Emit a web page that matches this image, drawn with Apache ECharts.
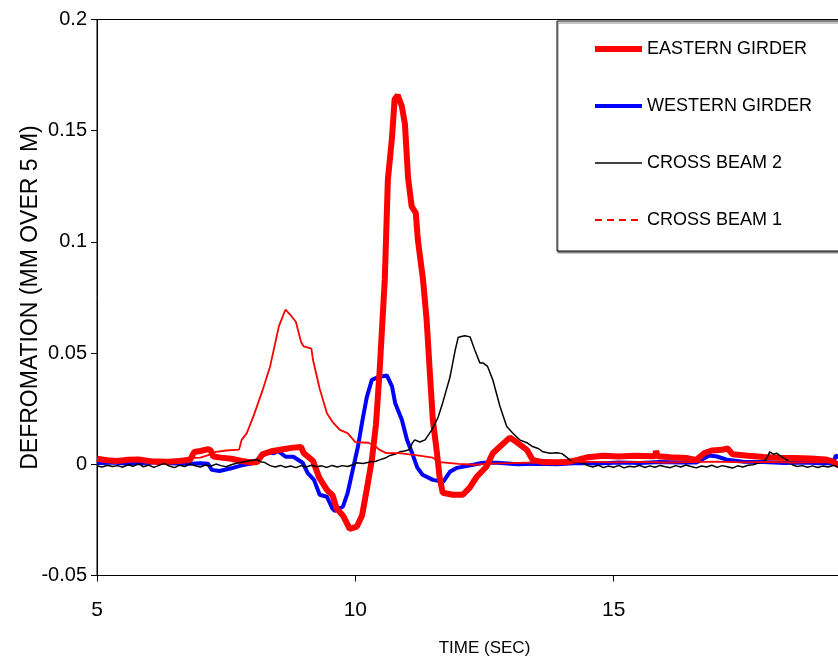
<!DOCTYPE html>
<html>
<head>
<meta charset="utf-8">
<script src="https://cdn.jsdelivr.net/npm/echarts@6/dist/echarts.min.js"></script>
<style>html,body{margin:0;padding:0;background:#fff}#c{width:838px;height:658px}</style>
</head>
<body>
<div id="c"></div>
<script>
var seriesNames = ['EASTERN GIRDER', 'WESTERN GIRDER', 'CROSS BEAM 2', 'CROSS BEAM 1'];
var xTicks = [5, 10, 15, 20];
var yTickLabels = ['-0.05', '0', '0.05', '0.1', '0.15', '0.2'];

var eastern = [
[5.0,0.0025],[5.2,0.0018],[5.4,0.0015],[5.6,0.002],[5.8,0.0022],[6.0,0.0015],[6.2,0.001],[6.4,0.0012],[6.6,0.0015],[6.8,0.002],
[6.88,0.0055],[7.0,0.006],[7.15,0.0068],[7.2,0.0062],[7.25,0.0035],[7.4,0.003],[7.6,0.0025],[7.8,0.0015],[8.0,0.0008],[8.1,0.001],
[8.2,0.0045],[8.4,0.006],[8.6,0.0068],[8.8,0.0075],[8.95,0.0078],[9.0,0.005],[9.18,0.0016],[9.3,-0.006],[9.45,-0.0115],[9.56,-0.014],
[9.64,-0.02],[9.76,-0.023],[9.89,-0.029],[10.03,-0.028],[10.13,-0.023],[10.22,-0.0115],[10.32,0.002],[10.4,0.018],[10.47,0.042],
[10.57,0.083],[10.63,0.128],[10.71,0.147],[10.76,0.164],[10.82,0.166],[10.9,0.161],[10.96,0.153],[11.02,0.129],[11.09,0.116],
[11.17,0.113],[11.21,0.101],[11.31,0.083],[11.38,0.065],[11.44,0.042],[11.5,0.02],[11.58,0.005],[11.63,-0.0056],[11.69,-0.0128],
[11.89,-0.0137],[12.08,-0.0137],[12.21,-0.0106],[12.35,-0.0056],[12.54,-0.001],[12.66,0.005],[12.8,0.008],[12.99,0.012],[13.12,0.010],
[13.32,0.0065],[13.43,0.002],[13.63,0.001],[13.9,0.0009],[14.1,0.001],[14.3,0.002],[14.5,0.0032],[14.8,0.0038],[15.1,0.0035],
[15.4,0.0038],[15.8,0.0036],[15.82,0.006],[15.85,0.0036],[16.1,0.0032],[16.4,0.0028],[16.6,0.002],[16.75,0.005],[16.9,0.0062],
[17.1,0.0065],[17.2,0.0072],[17.3,0.0045],[17.6,0.0038],[17.9,0.0033],[18.2,0.003],[18.5,0.0028],[18.8,0.0026],[19.1,0.0022],
[19.25,0.0012],[19.35,-0.0005],[19.6,0.001],[20.0,0.001]
];

var western = [
[5.0,0.0005],[5.3,0.0008],[5.6,0.0002],[5.9,0.0006],[6.2,0.0009],[6.5,0.0004],[6.8,0.0003],[7.0,0.0005],[7.15,0.0003],[7.22,-0.0025],
[7.37,-0.003],[7.6,-0.0018],[7.8,-0.0005],[8.0,0.0005],[8.1,0.002],[8.3,0.0056],[8.42,0.005],[8.5,0.006],[8.65,0.0034],[8.8,0.0034],
[8.98,0.0007],[9.08,-0.004],[9.2,-0.007],[9.31,-0.0137],[9.45,-0.0146],[9.55,-0.0196],[9.6,-0.021],[9.76,-0.019],[9.85,-0.013],
[9.95,-0.0025],[10.05,0.0079],[10.13,0.0187],[10.22,0.030],[10.32,0.038],[10.42,0.039],[10.61,0.040],[10.71,0.035],[10.77,0.0276],
[10.9,0.020],[11.0,0.011],[11.1,0.005],[11.2,-0.0015],[11.3,-0.0047],[11.5,-0.007],[11.7,-0.0079],[11.83,-0.0034],[11.97,-0.0016],
[12.28,-0.0002],[12.47,0.0007],[12.75,0.0007],[13.14,0.0],[13.5,0.0002],[13.9,0.0],[14.3,0.0006],[14.7,0.0004],[15.1,0.0008],
[15.5,0.0006],[15.9,0.001],[16.3,0.0008],[16.6,0.0008],[16.7,0.002],[16.85,0.004],[17.0,0.0035],[17.2,0.002],[17.5,0.0012],
[17.9,0.001],[18.3,0.0006],[18.7,0.0008],[19.0,0.0005],[19.25,0.0005],[19.3,0.004],[19.5,0.001],[20.0,0.0008]
];

var crossBeam2 = [
[5.0,-0.0008],[5.1,-0.0012],[5.2,-0.0004],[5.3,-0.001],[5.4,-0.0006],[5.5,-0.0013],[5.6,-0.0002],[5.7,-0.0009],[5.8,0.0003],[5.9,-0.0011],
[6.0,-0.0003],[6.1,-0.0014],[6.2,-0.0005],[6.3,0.0004],[6.4,-0.0008],[6.5,-0.0015],[6.6,-0.0004],[6.7,-0.001],[6.8,0.0002],[6.9,-0.0007],
[7.0,-0.0012],[7.1,-0.0003],[7.2,-0.0009],[7.3,0.0001],[7.4,-0.0006],[7.5,-0.0011],[7.6,-0.0002],[7.7,0.0005],[7.8,0.0009],[7.9,0.0014],
[8.0,0.0018],[8.1,0.0022],[8.15,0.0012],[8.25,0.0008],[8.35,-0.0006],[8.45,-0.0012],[8.55,-0.0005],[8.65,-0.0013],[8.75,-0.0008],
[8.85,-0.0015],[8.95,-0.0006],[9.05,-0.0012],[9.15,-0.0004],[9.25,-0.0011],[9.35,-0.0007],[9.45,-0.0014],[9.55,-0.0005],
[9.65,-0.0012],[9.75,-0.0006],[9.85,-0.001],[9.95,-0.0002],[10.03,0.0007],[10.15,0.0004],[10.28,0.001],[10.4,0.0014],[10.47,0.002],
[10.58,0.0028],[10.67,0.004],[10.78,0.0046],[10.86,0.0056],[10.95,0.006],[11.05,0.0065],[11.1,0.0095],[11.15,0.011],[11.25,0.010],
[11.35,0.011],[11.48,0.0155],[11.6,0.021],[11.69,0.0276],[11.83,0.039],[11.93,0.051],[11.99,0.057],[12.05,0.0575],[12.12,0.0578],
[12.22,0.0573],[12.31,0.0515],[12.41,0.0456],[12.47,0.0456],[12.56,0.044],[12.66,0.038],[12.8,0.026],[12.93,0.017],[13.05,0.014],
[13.18,0.011],[13.32,0.0097],[13.43,0.008],[13.55,0.007],[13.63,0.0056],[13.77,0.005],[13.9,0.0052],[14.0,0.0048],[14.1,0.003],
[14.2,0.001],[14.4,0.0007],[14.5,-0.0006],[14.6,-0.0012],[14.7,-0.0004],[14.8,-0.0015],[14.9,-0.0008],[15.0,-0.0013],[15.1,-0.0005],
[15.2,-0.0016],[15.3,-0.0009],[15.4,-0.0012],[15.5,-0.0004],[15.6,-0.0014],[15.7,-0.0007],[15.8,-0.0013],[15.9,-0.0005],[16.0,-0.0011],
[16.1,-0.0015],[16.2,-0.0006],[16.3,-0.0012],[16.4,-0.0003],[16.5,-0.001],[16.6,-0.0016],[16.7,-0.0008],[16.8,-0.0012],[16.9,-0.0004],
[17.0,-0.0014],[17.1,-0.0006],[17.2,-0.0011],[17.3,-0.0017],[17.4,-0.0007],[17.5,-0.0012],[17.6,-0.0004],[17.7,-0.0002],[17.8,0.0006],
[17.9,0.0012],[17.97,0.003],[18.02,0.0056],[18.1,0.0045],[18.15,0.005],[18.25,0.0035],[18.35,0.002],[18.46,-0.0002],[18.55,-0.001],
[18.65,-0.0006],[18.75,-0.0013],[18.85,-0.0007],[18.95,-0.0014],[19.05,-0.0008],[19.15,-0.0012],[19.25,-0.0005],[19.35,-0.0013],
[19.5,-0.0008],[19.7,-0.001],[20.0,-0.0008]
];

var crossBeam1 = [
[5.0,0.0015],[5.3,0.001],[5.6,0.0018],[5.9,0.0015],[6.2,0.0022],[6.5,0.002],[6.8,0.0028],[7.0,0.003],[7.2,0.0045],[7.3,0.0056],
[7.5,0.0062],[7.75,0.0066],[7.8,0.011],[7.9,0.014],[8.0,0.02],[8.05,0.023],[8.2,0.033],[8.35,0.044],[8.52,0.062],[8.62,0.068],
[8.65,0.0695],[8.75,0.067],[8.85,0.064],[8.95,0.055],[9.0,0.053],[9.15,0.052],[9.18,0.047],[9.31,0.034],[9.45,0.023],[9.56,0.019],
[9.7,0.0155],[9.85,0.014],[10.0,0.010],[10.25,0.0097],[10.35,0.0088],[10.47,0.0065],[10.6,0.005],[10.85,0.005],[11.2,0.004],
[11.5,0.003],[11.63,0.001],[12.0,0.0002],[12.3,-0.0002],[12.6,0.0003],[13.0,0.0005],[13.5,0.0008],[14.0,0.001],[14.5,0.0012],
[15.0,0.0009],[15.5,0.0011],[16.0,0.0008],[16.5,0.001],[17.0,0.0012],[17.5,0.0009],[18.0,0.0011],[18.5,0.0008],[19.0,0.001],[20.0,0.0008]
];

var chart = echarts.init(document.getElementById('c'), null, {renderer: 'canvas'});
var font = "'Liberation Sans', Arial, sans-serif";

chart.setOption({
  animation: false,
  backgroundColor: '#fff',
  grid: {left: 97, top: 19.5, width: 775, height: 556, containLabel: false, outerBoundsMode: 'none',
    show: true, borderColor: '#000', borderWidth: 1, backgroundColor: 'transparent'},
  legend: {
    orient: 'vertical', left: 557, top: 21,
    padding: [19, 80, 22, 35],
    itemWidth: 47, itemHeight: 14, itemGap: 39,
    backgroundColor: '#fff', borderColor: '#000', borderWidth: 1,
    shadowColor: '#888', shadowOffsetX: 1, shadowOffsetY: 2, shadowBlur: 0,
    itemStyle: {opacity: 0},
    textStyle: {fontFamily: font, fontSize: 18, lineHeight: 14, color: '#000'},
    data: [
      {name: seriesNames[0], lineStyle: {width: 6}},
      {name: seriesNames[1], lineStyle: {width: 4}},
      {name: seriesNames[2], lineStyle: {width: 1.5}},
      {name: seriesNames[3], lineStyle: {width: 2, type: [7, 5]}}
    ]
  },
  xAxis: {
    type: 'value', min: xTicks[0], max: xTicks[xTicks.length - 1], interval: 5,
    name: 'TIME (SEC)', nameLocation: 'middle', nameGap: 64, nameMoveOverlap: false,
    nameTextStyle: {fontFamily: font, fontSize: 17, color: '#000'},
    axisLine: {show: true, onZero: false, lineStyle: {color: '#000', width: 1}},
    axisTick: {show: true, length: 6, lineStyle: {color: '#000'}},
    splitLine: {show: false},
    axisLabel: {fontFamily: font, fontSize: 21, color: '#000', margin: 24}
  },
  yAxis: {
    type: 'value', min: -0.05, max: 0.2, interval: 0.05,
    name: 'DEFROMATION (MM OVER 5 M)', nameLocation: 'middle', nameGap: 55, nameMoveOverlap: false,
    nameTextStyle: {fontFamily: font, fontSize: 23, color: '#000'},
    axisLine: {show: true, onZero: false, lineStyle: {color: '#000', width: 1}},
    axisTick: {show: true, length: 6, lineStyle: {color: '#000'}},
    splitLine: {show: false},
    axisLabel: {fontFamily: font, fontSize: 20, color: '#000', margin: 10,
      formatter: function (v) { return yTickLabels[Math.round((v + 0.05) / 0.05)]; }}
  },
  series: [
    {name: seriesNames[1], type: 'line', data: western, symbol: 'none', z: 2,
      lineStyle: {color: '#0000ff', width: 4}, itemStyle: {color: '#0000ff'}},
    {name: seriesNames[0], type: 'line', data: eastern, symbol: 'none', z: 3,
      lineStyle: {color: '#ff0000', width: 6}, itemStyle: {color: '#ff0000'}},
    {name: seriesNames[2], type: 'line', data: crossBeam2, symbol: 'none', z: 4,
      lineStyle: {color: '#000000', width: 1.5}, itemStyle: {color: '#000000'}},
    {name: seriesNames[3], type: 'line', data: crossBeam1, symbol: 'none', z: 5,
      lineStyle: {color: '#ff0000', width: 1.8}, itemStyle: {color: '#ff0000'}}
  ]
});
</script>
</body>
</html>
